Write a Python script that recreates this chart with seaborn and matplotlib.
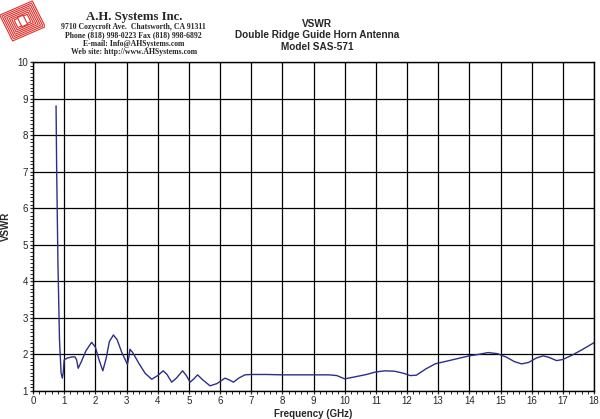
import matplotlib
matplotlib.use("Agg")
import matplotlib.pyplot as plt
import matplotlib.patches as mpatches
import matplotlib.transforms as mtransforms
from matplotlib.ticker import MultipleLocator
import pandas as pd
import seaborn as sns

# values
freq_ghz = [0.74, 0.76, 0.8, 0.85, 0.9, 0.94, 0.97, 1.0, 1.1, 1.25, 1.35, 1.4, 1.45, 1.55,
            1.7, 1.88, 2.0, 2.12, 2.24, 2.35, 2.45, 2.58, 2.7, 2.85, 3.0, 3.03, 3.08, 3.11,
            3.2, 3.4, 3.6, 3.81, 4.0, 4.18, 4.3, 4.45, 4.6, 4.8, 4.92, 5.04, 5.15, 5.28,
            5.45, 5.68, 5.9, 6.16, 6.3, 6.43, 6.6, 6.8, 7.0, 7.5, 8.0, 8.5, 9.0, 9.5, 9.75,
            10.0, 10.3, 10.7, 11.0, 11.3, 11.6, 11.9, 12.1, 12.3, 12.6, 12.9, 13.3, 13.7,
            14.0, 14.3, 14.6, 14.9, 15.2, 15.45, 15.68, 15.9, 16.15, 16.37, 16.55, 16.8,
            17.0, 17.3, 17.6, 18.0]
vswr = [8.8, 7.0, 4.5, 2.4, 1.5, 1.35, 1.5, 1.85, 1.9, 1.93, 1.93, 1.85, 1.62, 1.8,
        2.1, 2.33, 2.2, 1.85, 1.55, 1.9, 2.35, 2.53, 2.4, 2.05, 1.78, 1.73, 1.95, 2.14,
        2.05, 1.75, 1.48, 1.32, 1.42, 1.55, 1.45, 1.24, 1.35, 1.55, 1.42, 1.24, 1.32, 1.44,
        1.3, 1.14, 1.2, 1.35, 1.3, 1.24, 1.35, 1.44, 1.45, 1.45, 1.44, 1.44, 1.44, 1.44, 1.42,
        1.33, 1.38, 1.45, 1.52, 1.55, 1.54, 1.48, 1.42, 1.43, 1.6, 1.74, 1.82, 1.9,
        1.96, 2.0, 2.05, 2.02, 1.92, 1.8, 1.74, 1.78, 1.9, 1.96, 1.92, 1.83,
        1.86, 1.98, 2.12, 2.32]

title_lines = ["VSWR", "Double Ridge Guide Horn Antenna", "Model SAS-571"]
company_lines = ["9710 Cozycroft Ave.  Chatsworth, CA 91311",
                 "Phone (818) 998-0223 Fax (818) 998-6892",
                 "E-mail: Info@AHSystems.com",
                 "Web site: http://www.AHSystems.com"]

sns.set_style("white")
plt.rcParams['font.family'] = ['Liberation Sans', 'DejaVu Sans']

df = pd.DataFrame({"freq": freq_ghz, "vswr": vswr})

fig = plt.figure(figsize=(6, 4.19), dpi=100)
ax = fig.add_axes([0.055, 0.067, 0.935, 0.785])

sns.lineplot(data=df, x="freq", y="vswr", ax=ax, color="#2e2e86", lw=1.0,
             estimator=None, sort=False)

ax.set_xlim(0, 18)
ax.set_ylim(1, 10)
ax.xaxis.set_major_locator(MultipleLocator(1))
ax.yaxis.set_major_locator(MultipleLocator(1))
ax.xaxis.set_minor_locator(MultipleLocator(0.2))
ax.yaxis.set_minor_locator(MultipleLocator(0.1))
ax.grid(True, which="major", color="black", lw=0.9)
ax.tick_params(which="major", length=2, width=0.9, labelsize=7, pad=1.5)
ax.tick_params(which="minor", length=2, width=0.7)
ax.tick_params(axis="both", which="both", direction="out", bottom=True, left=True)
for s in ax.spines.values():
    s.set_color("black")
    s.set_linewidth(1.0)

ax.set_xlabel("Frequency (GHz)", fontsize=7, fontweight="bold", labelpad=2)
ax.set_ylabel("VSWR", fontsize=7, fontweight="bold", labelpad=5)

# title block
for i, t in enumerate(title_lines):
    fig.text(0.528, 0.943 - i * 0.027, t, ha="center", va="center",
             fontsize=7.2, fontweight="bold")

# company header
fig.text(0.223, 0.959, "A.H. Systems Inc.", ha="center", va="center",
         fontsize=9.2, fontweight="bold", family="Liberation Serif")
for y, t in zip([0.936, 0.917, 0.896, 0.877], company_lines):
    fig.text(0.223, y, t, ha="center", va="center",
             fontsize=5.6, fontweight="bold", family="Liberation Serif")

# simple logo
lax = fig.add_axes([0.0, 0.9, 0.075, 0.1])
lax.set_xlim(0, 1)
lax.set_ylim(0, 1)
lax.axis("off")
rot = mtransforms.Affine2D().rotate_deg_around(0.5, 0.5, 25) + lax.transData
for k in range(7):
    d = 0.04 * k
    lax.add_patch(mpatches.Rectangle((0.1 + d, 0.16 + d), 0.8 - 2 * d, 0.68 - 2 * d,
                                     fill=False, ec="#e0302a", lw=0.8, transform=rot))
lax.add_patch(mpatches.Rectangle((0.43, 0.38), 0.14, 0.24, fc="white", ec="#e0302a",
                                 lw=0.8, transform=rot))

fig.savefig("out.png", dpi=100)
